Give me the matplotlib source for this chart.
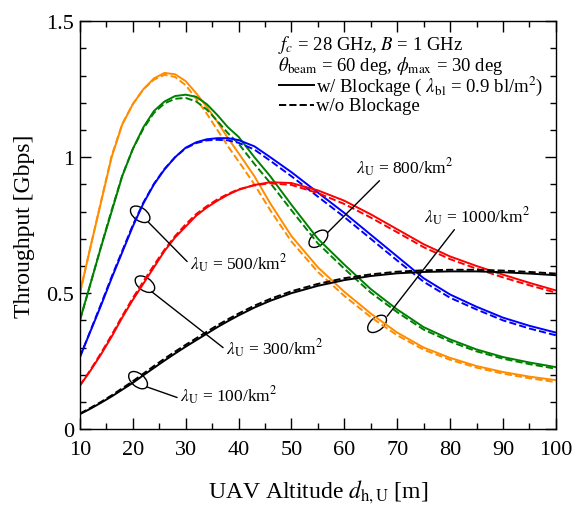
import matplotlib
matplotlib.use("Agg")
import matplotlib.pyplot as plt
from matplotlib.patches import Ellipse
from matplotlib.transforms import ScaledTranslation
from matplotlib.ticker import MultipleLocator, FuncFormatter

# altitude grid [m]
altitude = [10, 12, 14, 16, 18, 20, 22, 24, 26, 28, 30, 32, 34, 36, 38, 40,
            43, 46, 50, 55, 60, 65, 70, 75, 80, 85, 90, 95, 100]

# throughput [Gbps], solid = w/ blockage, dashed = w/o blockage
thr_1000 = [0.50, 0.67, 0.835, 1.00, 1.12, 1.195, 1.25, 1.29, 1.31, 1.305, 1.28, 1.235,
            1.185, 1.13, 1.07, 1.015, 0.93, 0.83, 0.71, 0.595, 0.505, 0.425, 0.355, 0.30,
            0.262, 0.232, 0.21, 0.193, 0.18]
thr_1000_nb = [0.50, 0.67, 0.838, 1.005, 1.122, 1.195, 1.25, 1.285, 1.303, 1.295, 1.265, 1.215,
               1.16, 1.10, 1.04, 0.985, 0.90, 0.805, 0.69, 0.578, 0.49, 0.412, 0.345, 0.292,
               0.255, 0.226, 0.204, 0.187, 0.173]
thr_800 = [0.40, 0.535, 0.67, 0.80, 0.93, 1.03, 1.11, 1.17, 1.205, 1.225, 1.23, 1.222,
           1.195, 1.155, 1.11, 1.075, 1.00, 0.93, 0.825, 0.70, 0.605, 0.515, 0.44, 0.375,
           0.33, 0.293, 0.265, 0.245, 0.228]
thr_800_nb = [0.40, 0.535, 0.672, 0.805, 0.932, 1.03, 1.105, 1.163, 1.198, 1.215, 1.218, 1.205,
              1.175, 1.133, 1.088, 1.05, 0.975, 0.905, 0.805, 0.683, 0.59, 0.502, 0.43, 0.366,
              0.322, 0.286, 0.259, 0.239, 0.222]
thr_500 = [0.265, 0.36, 0.455, 0.555, 0.65, 0.745, 0.83, 0.90, 0.955, 1.00, 1.035, 1.055,
           1.066, 1.07, 1.07, 1.063, 1.04, 1.00, 0.945, 0.87, 0.795, 0.715, 0.635, 0.555,
           0.495, 0.45, 0.41, 0.38, 0.355]
thr_500_nb = [0.265, 0.362, 0.46, 0.56, 0.655, 0.75, 0.833, 0.902, 0.957, 1.00, 1.033, 1.052,
              1.062, 1.064, 1.062, 1.053, 1.028, 0.987, 0.93, 0.855, 0.78, 0.70, 0.62, 0.542,
              0.483, 0.44, 0.40, 0.37, 0.345]
thr_300 = [0.16, 0.215, 0.275, 0.34, 0.41, 0.475, 0.535, 0.595, 0.655, 0.705, 0.745, 0.785,
           0.815, 0.84, 0.862, 0.88, 0.898, 0.908, 0.905, 0.878, 0.84, 0.79, 0.735, 0.68,
           0.635, 0.60, 0.568, 0.538, 0.51]
thr_300_nb = [0.16, 0.218, 0.28, 0.346, 0.416, 0.482, 0.543, 0.603, 0.66, 0.71, 0.753, 0.791,
              0.82, 0.845, 0.865, 0.882, 0.897, 0.904, 0.898, 0.868, 0.828, 0.778, 0.724, 0.669,
              0.625, 0.59, 0.558, 0.529, 0.502]
thr_100 = [0.055, 0.075, 0.097, 0.12, 0.145, 0.17, 0.198, 0.225, 0.252, 0.278, 0.303, 0.327,
           0.351, 0.375, 0.397, 0.418, 0.447, 0.472, 0.50, 0.527, 0.548, 0.563, 0.573, 0.578,
           0.58, 0.58, 0.577, 0.572, 0.566]
thr_100_nb = [0.057, 0.078, 0.10, 0.124, 0.15, 0.176, 0.204, 0.232, 0.259, 0.285, 0.31, 0.334,
              0.358, 0.382, 0.404, 0.425, 0.454, 0.479, 0.507, 0.534, 0.555, 0.569, 0.579, 0.584,
              0.586, 0.586, 0.583, 0.578, 0.572]

series = [
    (thr_1000, thr_1000_nb, "#ff8c00"),
    (thr_800, thr_800_nb, "#008000"),
    (thr_500, thr_500_nb, "#0000ff"),
    (thr_300, thr_300_nb, "#ff0000"),
    (thr_100, thr_100_nb, "#000000"),
]

plt.rcParams["font.family"] = ["Liberation Serif", "DejaVu Serif"]
plt.rcParams["mathtext.fontset"] = "stix"

fig = plt.figure(figsize=(5.79, 5.06), dpi=100)
ax = fig.add_axes([0.138, 0.150, 0.822, 0.806])

for solid, dashed, col in series:
    ax.plot(altitude, dashed, color=col, lw=1.4, ls="--")
    ax.plot(altitude, solid, color=col, lw=1.4)

ax.set_xlim(10, 100)
ax.set_ylim(0, 1.5)
ax.xaxis.set_major_locator(MultipleLocator(10))
ax.xaxis.set_minor_locator(MultipleLocator(5))
ax.yaxis.set_major_locator(MultipleLocator(0.5))
ax.yaxis.set_minor_locator(MultipleLocator(0.1))
ax.yaxis.set_major_formatter(FuncFormatter(lambda v, p: "%g" % v))
ax.tick_params(which="both", direction="in", top=True, right=True, labelsize=16)
ax.tick_params(which="major", length=8, width=1, pad=4)
ax.tick_params(axis="x", which="major", pad=8)
ax.tick_params(which="minor", length=4, width=1)
for s in ax.spines.values():
    s.set_linewidth(1.0)

ax.set_xlabel(r"UAV Altitude $d_{\mathrm{h,U}}$ [m]", fontsize=17, labelpad=13)
ax.set_ylabel("Throughput [Gbps]", fontsize=17, labelpad=8)

# density labels, each with a small ring round its curve
labels = [
    # text, ring centre, ring angle, line start, text pos, relpos
    (r"$\lambda_{\mathrm{U}}$ = 100/km$^2$", (21.0, 0.180), -40, (22.7, 0.155), (28.9, 0.125), (0.0, 0.35)),
    (r"$\lambda_{\mathrm{U}}$ = 300/km$^2$", (22.3, 0.533), -35, (23.6, 0.505), (37.6, 0.30), (0.0, 0.4)),
    (r"$\lambda_{\mathrm{U}}$ = 500/km$^2$", (21.4, 0.79), -35, (23.0, 0.76), (30.8, 0.61), (0.0, 0.45)),
    (r"$\lambda_{\mathrm{U}}$ = 800/km$^2$", (55.1, 0.70), 40, (56.8, 0.722), (62.2, 0.965), (0.27, 0.0)),
    (r"$\lambda_{\mathrm{U}}$ = 1000/km$^2$", (66.2, 0.387), 40, (68.1, 0.415), (75.0, 0.785), (0.31, 0.0)),
]
for txt, centre, ang, start, pos, rel in labels:
    ring_tr = fig.dpi_scale_trans + ScaledTranslation(centre[0], centre[1], ax.transData)
    ax.add_patch(Ellipse((0, 0), 0.22, 0.13, angle=ang, fill=False, color="black",
                         lw=1.0, transform=ring_tr))
    ax.annotate(txt, xy=start, xytext=pos, fontsize=12.5, ha="left", va="center",
                arrowprops=dict(arrowstyle="-", color="black", lw=1.0,
                                relpos=rel, shrinkA=0, shrinkB=0))

# parameter block
ax.text(0.416, 0.944, r"$f_c$ = 28 GHz, $B$ = 1 GHz", transform=ax.transAxes,
        fontsize=13.5, va="center", ha="left")
ax.text(0.416, 0.893, r"$\theta_{\mathrm{beam}}$ = 60 deg, $\phi_{\mathrm{max}}$ = 30 deg",
        transform=ax.transAxes, fontsize=13.5, va="center", ha="left")
ax.plot([0.418, 0.491], [0.843, 0.843], color="black", lw=1.4, transform=ax.transAxes)
ax.plot([0.418, 0.491], [0.794, 0.794], color="black", lw=1.4, ls="--", transform=ax.transAxes)
ax.text(0.496, 0.843, r"w/ Blockage ( $\lambda_{\mathrm{bl}}$ = 0.9 bl/m$^2$)",
        transform=ax.transAxes, fontsize=13.5, va="center", ha="left")
ax.text(0.496, 0.794, "w/o Blockage", transform=ax.transAxes, fontsize=13.5,
        va="center", ha="left")

fig.savefig("out.png", dpi=100)
